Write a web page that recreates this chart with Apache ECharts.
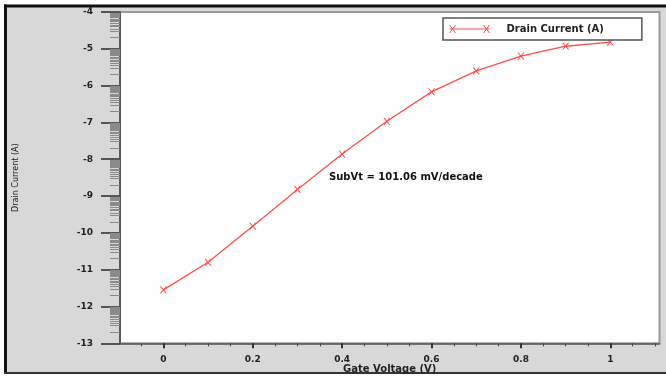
<!DOCTYPE html>
<html>
<head>
<meta charset="utf-8">
<title>Drain Current vs Gate Voltage</title>
<script src="https://cdn.jsdelivr.net/npm/echarts@6/dist/echarts.min.js"></script>
<style>
  html, body { margin: 0; padding: 0; background: #ffffff; }
  #chart { width: 666px; height: 376px; }
</style>
</head>
<body>
<div id="chart"></div>
<script>
// Transfer characteristic: log10 of drain current against gate voltage
const gateVoltage = [0, 0.1, 0.2, 0.3, 0.4, 0.5, 0.6, 0.7, 0.8, 0.9, 1.0];
const drainCurrentLog = [-11.55, -10.80, -9.82, -8.82, -7.86, -6.97, -6.17, -5.60, -5.20, -4.93, -4.82];

// Axis ticks and labels
const xTickLabels = [0, 0.2, 0.4, 0.6, 0.8, 1];
const xMinorSteps = [-0.05, 0.05, 0.1, 0.15, 0.25, 0.3, 0.35, 0.45, 0.5, 0.55, 0.65, 0.7, 0.75, 0.85, 0.9, 0.95, 1.05, 1.1];
const yDecades = [-13, -12, -11, -10, -9, -8, -7, -6, -5];
const yMinorMantissas = [2, 3, 3.5, 4, 4.5, 5, 5.5, 6, 6.5, 7, 7.5, 8, 8.5, 9, 9.5];

const seriesName = 'Drain Current (A)';
const noteText = 'SubVt = 101.06 mV/decade';

const FONT = '"DejaVu Sans", "Liberation Sans", sans-serif';
const LINE_RED = '#ff4d4d';

// Log-style minor ticks inside every decade of the y axis
const yMinorTicks = [];
yDecades.forEach(function (d) {
  yMinorMantissas.forEach(function (k) { yMinorTicks.push(d + Math.log10(k)); });
});

const points = gateVoltage.map(function (v, i) { return [v, drainCurrentLog[i]]; });

const chart = echarts.init(document.getElementById('chart'), null, { renderer: 'canvas' });

chart.setOption({
  animation: false,
  backgroundColor: '#ffffff',
  textStyle: { fontFamily: FONT },
  graphic: [
    { type: 'rect', z: -10, silent: true, shape: { x: 5, y: 5, width: 661, height: 368 }, style: { fill: '#d8d8d8' } },
    { type: 'line', z: -9, silent: true, shape: { x1: 5.5, y1: 4.5, x2: 5.5, y2: 374 }, style: { stroke: '#111111', lineWidth: 3 } },
    { type: 'line', z: -9, silent: true, shape: { x1: 4, y1: 6, x2: 666, y2: 6 }, style: { stroke: '#111111', lineWidth: 3 } },
    { type: 'line', z: -9, silent: true, shape: { x1: 4, y1: 373, x2: 666, y2: 373 }, style: { stroke: '#333333', lineWidth: 2 } },
    {
      type: 'text', z: 10, left: 329, top: 172,
      style: { text: noteText, font: 'bold 10px ' + FONT, fill: '#111111' }
    }
  ],
  grid: {
    left: 120, top: 12, right: 6.5, bottom: 32.7,
    show: true, backgroundColor: '#ffffff', borderColor: '#9a9a9a', borderWidth: 2,
    outerBoundsMode: 'none'
  },
  legend: {
    left: 443, top: 18,
    backgroundColor: '#ffffff', borderColor: '#555555', borderWidth: 1.5,
    padding: [6, 38, 6, 6],
    itemWidth: 40, itemHeight: 8,
    icon: 'path://M0,4L40,4M0,0L6,8M0,8L6,0M34,0L40,8M34,8L40,0',
    itemStyle: { color: 'transparent', borderColor: LINE_RED, borderWidth: 1 },
    textStyle: { fontFamily: FONT, fontWeight: 'bold', fontSize: 10, color: '#222222', padding: [0, 0, 0, 12] },
    data: [seriesName]
  },
  xAxis: [
    {
      type: 'value', position: 'bottom', min: -0.097, max: 1.11,
      name: 'Gate Voltage (V)', nameLocation: 'middle', nameGap: 21, nameMoveOverlap: false,
      nameTextStyle: { fontFamily: FONT, fontWeight: 'bold', fontSize: 10, color: '#222222' },
      axisLine: { show: true, onZero: false, lineStyle: { color: '#555555', width: 1.5 } },
      axisTick: { show: true, customValues: xTickLabels, length: 5, lineStyle: { color: '#333333', width: 2 } },
      axisLabel: { customValues: xTickLabels, margin: 12, fontFamily: FONT, fontWeight: 'bold', fontSize: 9, color: '#222222' },
      splitLine: { show: false }
    },
    {
      type: 'value', position: 'bottom', offset: 0, min: -0.097, max: 1.11,
      axisLine: { show: false, onZero: false },
      axisTick: { show: true, customValues: xMinorSteps, length: 3, lineStyle: { color: '#444444', width: 1 } },
      axisLabel: { show: false },
      splitLine: { show: false }
    }
  ],
  yAxis: [
    {
      type: 'value', position: 'left', min: -13, max: -4, interval: 1,
      name: seriesName, nameLocation: 'middle', nameGap: 100, nameRotate: 90, nameMoveOverlap: false,
      nameTextStyle: { fontFamily: FONT, fontSize: 8, color: '#222222' },
      axisLine: { show: true, onZero: false, lineStyle: { color: '#444444', width: 1.5 } },
      axisTick: { show: true, length: 19, lineStyle: { color: '#555555', width: 2 } },
      axisLabel: { margin: 27, fontFamily: FONT, fontWeight: 'bold', fontSize: 9, color: '#222222' },
      splitLine: { show: false }
    },
    {
      type: 'value', position: 'left', offset: 0, min: -13, max: -4,
      axisLine: { show: false, onZero: false },
      axisTick: { show: true, customValues: yMinorTicks, length: 10, lineStyle: { color: '#8a8a8a', width: 1 } },
      axisLabel: { show: false },
      splitLine: { show: false }
    }
  ],
  series: [
    {
      name: seriesName,
      type: 'line',
      xAxisIndex: 0, yAxisIndex: 0,
      data: points,
      smooth: false,
      symbol: 'path://M0,0L10,10M0,10L10,0',
      symbolSize: [6, 7],
      itemStyle: { color: 'transparent', borderColor: LINE_RED, borderWidth: 1 },
      lineStyle: { color: LINE_RED, width: 1.3 },
      emphasis: { disabled: true },
      z: 3
    }
  ]
});
</script>
</body>
</html>
